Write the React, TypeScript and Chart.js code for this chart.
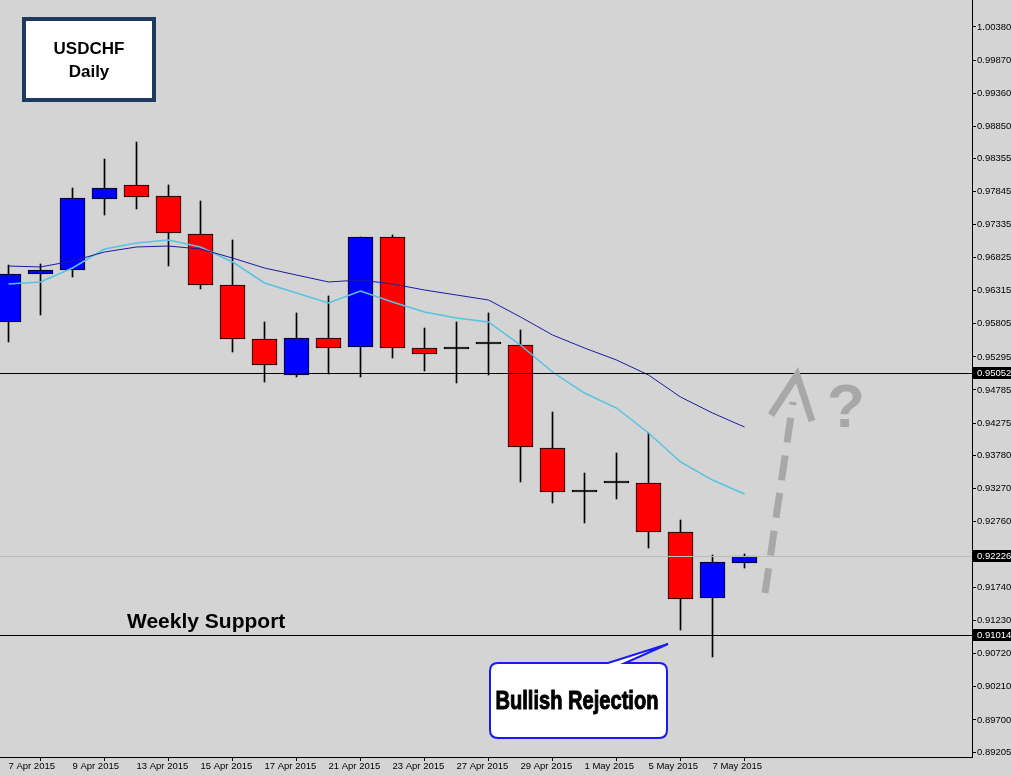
import React, { useEffect, useRef } from 'react';
import { Chart, registerables } from 'chart.js';

Chart.register(...registerables);

// ---- Data ----
const dates = [
  '7 Apr 2015', '8 Apr 2015', '9 Apr 2015', '10 Apr 2015', '13 Apr 2015', '14 Apr 2015',
  '15 Apr 2015', '16 Apr 2015', '17 Apr 2015', '20 Apr 2015', '21 Apr 2015', '22 Apr 2015',
  '23 Apr 2015', '24 Apr 2015', '27 Apr 2015', '28 Apr 2015', '29 Apr 2015', '30 Apr 2015',
  '1 May 2015', '4 May 2015', '5 May 2015', '6 May 2015', '7 May 2015', '8 May 2015',
];
const opens = [
  0.95833, 0.96573, 0.96634, 0.97729, 0.97945, 0.97775, 0.97189, 0.96403, 0.95571, 0.95016,
  0.95586, 0.95448, 0.97143, 0.95432, 0.95417, 0.95494, 0.95478, 0.93891, 0.93213, 0.93351,
  0.93351, 0.92596, 0.91579, 0.92118,
];
const highs = [
  0.96711, 0.96727, 0.97898, 0.98345, 0.98607, 0.97945, 0.97698, 0.97097, 0.95833, 0.95972,
  0.96234, 0.97143, 0.97174, 0.95740, 0.95833, 0.95972, 0.95710, 0.94446, 0.93505, 0.93814,
  0.94122, 0.92781, 0.92241, 0.92257,
];
const lows = [
  0.95525, 0.95941, 0.96527, 0.97482, 0.97575, 0.96696, 0.96342, 0.95370, 0.94908, 0.94985,
  0.95031, 0.94985, 0.95278, 0.95078, 0.94893, 0.95016, 0.93367, 0.93043, 0.92735, 0.93105,
  0.92349, 0.91085, 0.90669, 0.92041,
];
const closes = [
  0.96573, 0.96634, 0.97744, 0.97898, 0.97760, 0.97205, 0.96403, 0.95571, 0.95170, 0.95586,
  0.95432, 0.97143, 0.95432, 0.95340, 0.95417, 0.95494, 0.93906, 0.93213, 0.93213, 0.93351,
  0.92596, 0.91563, 0.92134, 0.92226,
];
const maSlow = [
  0.96696, 0.96681, 0.96773, 0.96912, 0.96989, 0.97004, 0.96958, 0.96819, 0.96665, 0.96557,
  0.96450, 0.96480, 0.96419, 0.96326, 0.96249, 0.96172, 0.95910, 0.95633, 0.95432, 0.95247,
  0.95016, 0.94677, 0.94430, 0.94214,
];
const maFast = [
  0.96419, 0.96450, 0.96665, 0.96958, 0.97051, 0.97097, 0.96989, 0.96758, 0.96434, 0.96280,
  0.96126, 0.96311, 0.96141, 0.95987, 0.95894, 0.95833, 0.95478, 0.95062, 0.94738, 0.94507,
  0.94122, 0.93675, 0.93397, 0.93182,
];
const yTickValues = [
  1.0038, 0.9987, 0.9936, 0.9885, 0.98355, 0.97845, 0.97335, 0.96825, 0.96315, 0.95805,
  0.95295, 0.94785, 0.94275, 0.9378, 0.9327, 0.9276, 0.9174, 0.9123, 0.9072, 0.9021,
  0.897, 0.89205,
];
const xTickIndices = [0, 2, 4, 6, 8, 10, 12, 14, 16, 18, 20, 22];
const resistanceLevel = 0.95052;
const supportLevel = 0.91014;
const lastPrice = 0.92226;

const FONT = '"Liberation Sans", Arial, sans-serif';

export default function App() {
  const ref = useRef<HTMLCanvasElement | null>(null);

  useEffect(() => {
    document.body.style.margin = '0';
    const canvas = ref.current;
    if (!canvas) return;

    const bgPlugin = {
      id: 'bg',
      beforeDraw(chart: any) {
        const ctx = chart.ctx;
        ctx.save();
        ctx.fillStyle = '#d4d4d4';
        ctx.fillRect(0, 0, chart.width, chart.height);
        ctx.restore();
      },
    };

    const linesPlugin = {
      id: 'levels',
      afterDatasetsDraw(chart: any) {
        const ctx = chart.ctx;
        const { left, right } = chart.chartArea;
        const y = chart.scales.y;
        ctx.save();
        ctx.lineWidth = 1;
        const hl = (v: number, color: string) => {
          const py = Math.round(y.getPixelForValue(v)) + 0.5;
          ctx.strokeStyle = color;
          ctx.beginPath();
          ctx.moveTo(left, py);
          ctx.lineTo(right, py);
          ctx.stroke();
        };
        hl(lastPrice, '#bcbcbc');
        hl(resistanceLevel, '#000');
        hl(supportLevel, '#000');
        ctx.restore();
      },
    };

    const overlayPlugin = {
      id: 'overlay',
      afterDraw(chart: any) {
        const ctx = chart.ctx;
        const y = chart.scales.y;
        const { right } = chart.chartArea;
        ctx.save();
        // price boxes on axis
        [resistanceLevel, lastPrice, supportLevel].forEach((v) => {
          const py = Math.round(y.getPixelForValue(v));
          ctx.fillStyle = '#000';
          ctx.fillRect(right + 1, py - 6, chart.width - right - 1, 12);
          ctx.fillStyle = '#fff';
          ctx.font = `9.5px ${FONT}`;
          ctx.textAlign = 'left';
          ctx.textBaseline = 'middle';
          ctx.fillText(v.toFixed(5), right + 5, py + 0.5);
        });

        // title box
        ctx.fillStyle = '#fff';
        ctx.fillRect(24, 19, 130, 81);
        ctx.strokeStyle = '#1f3a5f';
        ctx.lineWidth = 4;
        ctx.strokeRect(24, 19, 130, 81);
        ctx.fillStyle = '#000';
        ctx.font = `bold 17px ${FONT}`;
        ctx.textAlign = 'center';
        ctx.textBaseline = 'middle';
        ctx.fillText('USDCHF', 89, 49);
        ctx.fillText('Daily', 89, 72);

        // Weekly Support
        ctx.font = `bold 21px ${FONT}`;
        ctx.textAlign = 'left';
        ctx.textBaseline = 'alphabetic';
        ctx.fillText('Weekly Support', 127, 628);

        // callout
        const bx = 490, by = 663, bw = 177, bh = 75, r = 8;
        ctx.beginPath();
        ctx.moveTo(bx + r, by);
        ctx.lineTo(608, by);
        ctx.lineTo(668, 644);
        ctx.lineTo(625, by);
        ctx.lineTo(bx + bw - r, by);
        ctx.quadraticCurveTo(bx + bw, by, bx + bw, by + r);
        ctx.lineTo(bx + bw, by + bh - r);
        ctx.quadraticCurveTo(bx + bw, by + bh, bx + bw - r, by + bh);
        ctx.lineTo(bx + r, by + bh);
        ctx.quadraticCurveTo(bx, by + bh, bx, by + bh - r);
        ctx.lineTo(bx, by + r);
        ctx.quadraticCurveTo(bx, by, bx + r, by);
        ctx.closePath();
        ctx.fillStyle = '#fff';
        ctx.fill();
        ctx.strokeStyle = '#1a1aee';
        ctx.lineWidth = 2;
        ctx.stroke();

        const t = 'Bullish Rejection';
        ctx.font = `bold 26px "Liberation Sans Narrow", ${FONT}`;
        const w = ctx.measureText(t).width;
        ctx.save();
        ctx.translate(577, 709);
        ctx.scale(163 / w, 1);
        ctx.textAlign = 'center';
        ctx.textBaseline = 'alphabetic';
        ctx.fillStyle = '#000';
        ctx.fillText(t, 0, 0);
        ctx.strokeStyle = '#000';
        ctx.lineWidth = 1;
        ctx.strokeText(t, 0, 0);
        ctx.restore();

        // dashed arrow
        ctx.strokeStyle = '#a8a8a8';
        ctx.lineWidth = 7;
        ctx.lineCap = 'butt';
        ctx.setLineDash([25, 13]);
        ctx.beginPath();
        ctx.moveTo(765, 593);
        ctx.lineTo(793, 402);
        ctx.stroke();
        ctx.setLineDash([]);
        ctx.beginPath();
        ctx.moveTo(771, 415);
        ctx.lineTo(797, 375);
        ctx.lineTo(812, 421);
        ctx.lineJoin = 'miter';
        ctx.stroke();

        ctx.fillStyle = '#a8a8a8';
        ctx.font = `bold 62px ${FONT}`;
        ctx.textAlign = 'center';
        ctx.textBaseline = 'alphabetic';
        ctx.fillText('?', 846, 427);
        ctx.restore();
      },
    };

    const bodyColors = opens.map((o, i) =>
      closes[i] > o ? '#0000ff' : closes[i] < o ? '#ff0000' : '#000000'
    );
    const xMin = -0.25 - 1 / 64;

    const chart = new Chart(canvas, {
      type: 'bar',
      data: {
        datasets: [
          {
            type: 'line',
            label: 'MA slow',
            data: maSlow.map((v, i) => ({ x: i, y: v })),
            borderColor: '#1c1ca0',
            borderWidth: 1,
            pointRadius: 0,
            tension: 0,
            order: 0,
          } as any,
          {
            type: 'line',
            label: 'MA fast',
            data: maFast.map((v, i) => ({ x: i, y: v })),
            borderColor: '#55c3e3',
            borderWidth: 1.5,
            pointRadius: 0,
            tension: 0,
            order: 0,
          } as any,
          {
            type: 'bar',
            label: 'Bodies',
            data: opens.map((o, i) => ({ x: i, y: [o, closes[i]] })),
            backgroundColor: bodyColors,
            borderColor: '#000',
            borderWidth: 1,
            borderSkipped: false,
            barThickness: 25,
            minBarLength: 2,
            grouped: false,
            order: 1,
          } as any,
          {
            type: 'bar',
            label: 'Wicks',
            data: lows.map((l, i) => ({ x: i, y: [l, highs[i]] })),
            backgroundColor: '#000',
            borderWidth: 0,
            barThickness: 1,
            grouped: false,
            order: 2,
          } as any,
        ],
      },
      options: {
        responsive: false,
        animation: false,
        events: [],
        layout: { padding: 0 },
        plugins: { legend: { display: false }, tooltip: { enabled: false } },
        scales: {
          x: {
            type: 'linear',
            min: xMin,
            max: xMin + 972 / 32,
            offset: false,
            afterBuildTicks: (axis: any) => {
              axis.ticks = xTickIndices.map((v) => ({ value: v }));
            },
            afterFit: (axis: any) => {
              axis.height = 18;
              axis.paddingLeft = 0;
              axis.paddingRight = 0;
            },
            grid: { display: true, drawOnChartArea: false, drawTicks: true, tickLength: 4, color: '#000' },
            border: { display: true, color: '#000' },
            ticks: {
              autoSkip: false,
              maxRotation: 0,
              minRotation: 0,
              align: 'start',
              padding: 0,
              color: '#000',
              font: { family: FONT, size: 9.5 },
              callback: (value: any) => dates[Math.round(Number(value))] ?? '',
            },
          } as any,
          y: {
            type: 'linear',
            position: 'right',
            min: 0.89128,
            max: 1.00796,
            afterBuildTicks: (axis: any) => {
              axis.ticks = yTickValues.map((v) => ({ value: v }));
            },
            afterFit: (axis: any) => {
              axis.width = 39;
              axis.paddingTop = 0;
              axis.paddingBottom = 0;
            },
            grid: { display: true, drawOnChartArea: false, drawTicks: true, tickLength: 4, color: '#000' },
            border: { display: true, color: '#000' },
            ticks: {
              autoSkip: false,
              padding: 1,
              color: '#000',
              font: { family: FONT, size: 9.5 },
              callback: (value: any) => Number(value).toFixed(5),
            },
          } as any,
        },
      },
      plugins: [bgPlugin, linesPlugin, overlayPlugin],
    });

    return () => chart.destroy();
  }, []);

  return (
    <div style={{ position: 'absolute', left: 0, top: 0, width: 1011, height: 775, background: '#d4d4d4' }}>
      <canvas ref={ref} width={1011} height={775} style={{ display: 'block' }} />
    </div>
  );
}
